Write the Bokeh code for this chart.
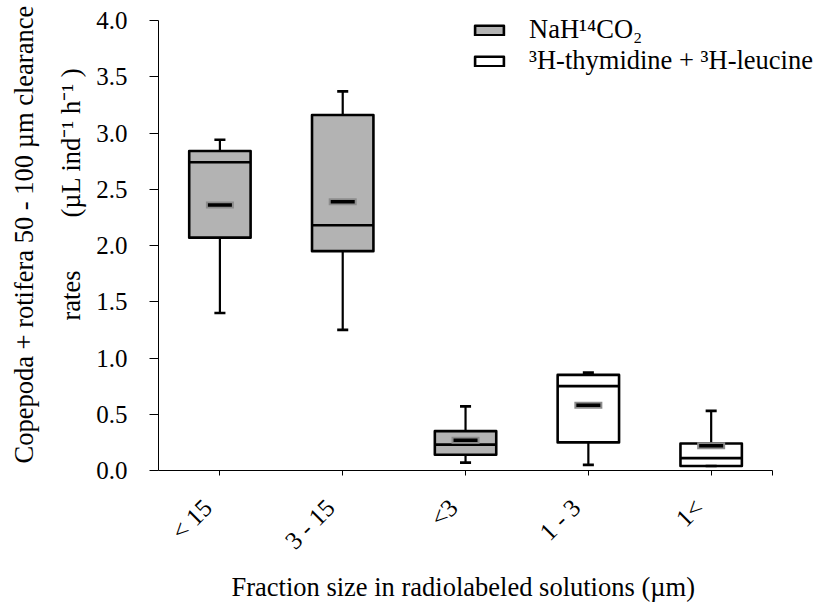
import math
from bokeh.plotting import figure
from bokeh.models import (ColumnDataSource, Legend, LegendItem, Range1d, Title,
                          LinearAxis, FixedTicker, SingleIntervalTicker, NumeralTickFormatter)
from bokeh.transform import dodge
from bokeh.embed import file_html
from bokeh.resources import INLINE

# ---- data ----
categories = ["< 15", "3 - 15", "<3", "1 - 3", "1<"]
method = ["NaH14CO2", "NaH14CO2", "NaH14CO2", "3H", "3H"]
whisker_low = [1.40, 1.25, 0.07, 0.05, 0.04]
q1 = [2.07, 1.95, 0.14, 0.25, 0.04]
median = [2.74, 2.18, 0.23, 0.75, 0.11]
q3 = [2.84, 3.16, 0.35, 0.85, 0.24]
whisker_high = [2.94, 3.37, 0.57, 0.87, 0.53]
mean = [2.36, 2.39, 0.27, 0.58, 0.22]
y_min, y_max = 0.0, 4.0

series_labels = {"NaH14CO2": "NaH\u00b9\u2074CO\u2082",
                 "3H": "\u00b3H-thymidine + \u00b3H-leucine"}
series_fill = {"NaH14CO2": "#b3b3b3", "3H": "#ffffff"}

FONT = "Liberation Serif"
TICK_SIZE = "25px"
TITLE_SIZE = "26.5px"

# category positions on the x scale: 1..n
xpos = list(range(1, len(categories) + 1))
x_end = len(categories) + 0.5

def subset(key):
    idx = [i for i, m in enumerate(method) if m == key]
    return ColumnDataSource(dict(
        x=[xpos[i] for i in idx],
        lo=[whisker_low[i] for i in idx],
        q1=[q1[i] for i in idx],
        med=[median[i] for i in idx],
        q3=[q3[i] for i in idx],
        hi=[whisker_high[i] for i in idx],
        mean=[mean[i] for i in idx],
    ))

# the frame runs to the top and right edges of the page so the legend is never
# clipped; both axes are bounded to the reference's data span
p = figure(x_range=Range1d(0.5, x_end + 50 / 123),
           y_range=Range1d(y_min, y_max + 20 / 112.5),
           width=822, height=605, output_backend="svg", toolbar_location=None,
           x_axis_location=None, y_axis_location=None,
           min_border_left=157, min_border_right=0, min_border_top=0,
           min_border_bottom=135)
p.xgrid.visible = False
p.ygrid.visible = False
p.outline_line_color = None
p.background_fill_color = "white"

legend_items = []
for key in ["NaH14CO2", "3H"]:
    src = subset(key)
    p.segment(x0="x", x1="x", y0="q3", y1="hi", source=src, line_color="black", line_width=2.2)
    p.segment(x0="x", x1="x", y0="lo", y1="q1", source=src, line_color="black", line_width=2.2)
    box = p.vbar(x="x", width=0.5, top="q3", bottom="q1", source=src,
                 fill_color=series_fill[key], line_color="black", line_width=2.6,
                 line_join="round")
    p.segment(x0=dodge("x", -0.25), x1=dodge("x", 0.25),
              y0="med", y1="med", source=src, line_color="black", line_width=2.6)
    p.segment(x0=dodge("x", -0.045), x1=dodge("x", 0.045),
              y0="hi", y1="hi", source=src, line_color="black", line_width=2.6)
    p.segment(x0=dodge("x", -0.045), x1=dodge("x", 0.045),
              y0="lo", y1="lo", source=src, line_color="black", line_width=2.6)
    p.rect(x="x", y="mean", width=28, height=7, width_units="screen", height_units="screen",
           source=src, fill_color="#8c8c8c", line_color=None)
    p.rect(x="x", y="mean", width=24, height=3.5, width_units="screen", height_units="screen",
           source=src, fill_color="black", line_color=None)
    legend_items.append(LegendItem(label=series_labels[key], renderers=[box]))

# ---- y axis ----
yaxis = LinearAxis(ticker=SingleIntervalTicker(interval=0.5),
                   formatter=NumeralTickFormatter(format="0.0"), bounds=(y_min, y_max))
yaxis.minor_tick_line_color = None
yaxis.major_tick_out = 9
yaxis.major_tick_in = 0
yaxis.major_label_standoff = 22
p.add_layout(yaxis, "left")

# ---- x axis: line + ticks at category centres and at the right end ----
xaxis = LinearAxis(ticker=FixedTicker(ticks=xpos + [x_end]), bounds=(0.5, x_end))
xaxis.major_label_overrides = {t: "" for t in xpos + [x_end]}
xaxis.minor_tick_line_color = None
xaxis.major_tick_out = 5
xaxis.major_tick_in = 0
xaxis.major_label_standoff = 0
p.add_layout(xaxis, "below")

# tick labels (rotated) sit slightly left of the tick, as in the reference
label_shift = 0.1
xlab = LinearAxis(ticker=FixedTicker(ticks=[x - label_shift for x in xpos]),
                  bounds=(0.5, x_end))
xlab.major_label_overrides = {x - label_shift: c for x, c in zip(xpos, categories)}
xlab.axis_line_color = None
xlab.major_tick_line_color = None
xlab.minor_tick_line_color = None
xlab.major_label_orientation = math.pi / 4
xlab.major_label_standoff = 22
p.add_layout(xlab, "below")

for ax in (xaxis, xlab, yaxis):
    ax.axis_line_width = 1
    ax.major_label_text_font = FONT
    ax.major_label_text_font_size = TICK_SIZE
    ax.major_label_text_color = "black"
xaxis.axis_line_color = "black"
xaxis.major_tick_line_color = "black"
yaxis.axis_line_color = "black"
yaxis.major_tick_line_color = "black"

def title(text, offset, standoff):
    return Title(text=text, align="left", offset=offset, standoff=standoff,
                 text_font=FONT, text_font_size=TITLE_SIZE, text_font_style="normal",
                 text_color="black")

# ---- x axis title (centred under the category span) ----
p.add_layout(title("Fraction size in radiolabeled solutions (\u00b5m)", 73, 7), "below")

# ---- y axis title: two lines ----
nb = "\u00a0"
p.add_layout(title("rates" + nb * 8 + "(\u00b5L ind\u207b\u00b9 h\u207b\u00b9 )", 150, 16), "left")
p.add_layout(title("Copepoda + rotifera 50 - 100 \u00b5m clearance", 7, 13), "left")

legend = Legend(items=legend_items, location=(313, 394), orientation="vertical",
                label_text_font=FONT, label_text_font_size=TITLE_SIZE,
                label_text_color="black", label_height=25, glyph_height=12,
                glyph_width=36, spacing=0, padding=0, margin=0, label_standoff=22,
                border_line_color=None, background_fill_alpha=0)
p.add_layout(legend)

open("out.html", "w").write(file_html(p, INLINE))
